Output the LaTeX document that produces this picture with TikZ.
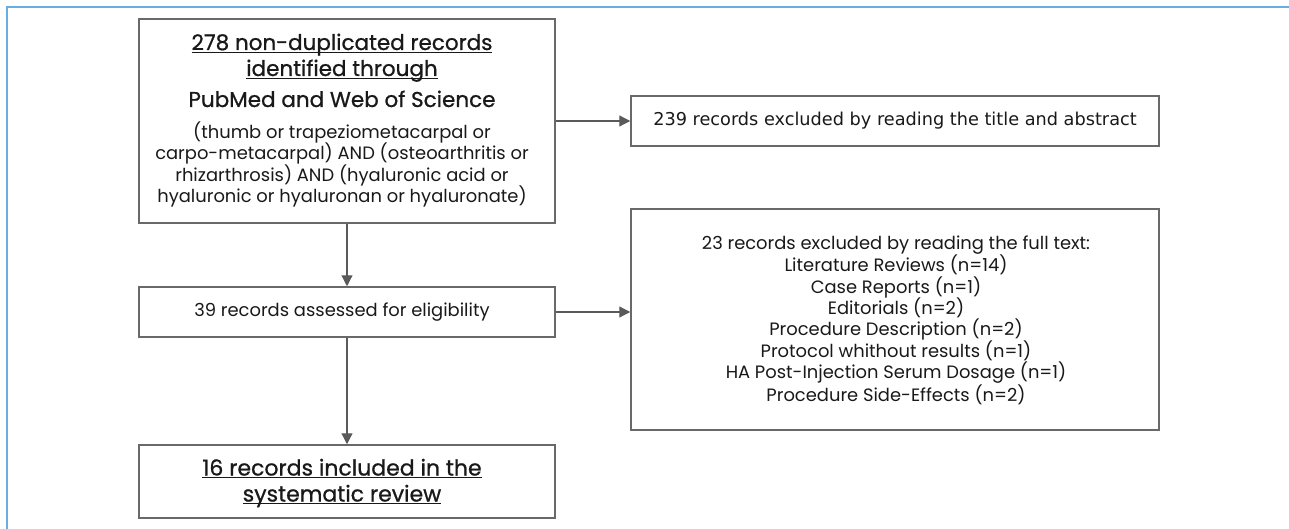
\documentclass[tikz,border=0pt]{standalone}
\usepackage{fontspec}
\setmainfont{Poppins}
\newfontfamily\dejavu{DejaVu Sans}
\newfontfamily\popmed[FakeBold=0.8]{Poppins}
\usetikzlibrary{arrows.meta}
\definecolor{frameblue}{RGB}{106,174,224}
\definecolor{boxgray}{RGB}{105,105,105}
\definecolor{arrowgray}{RGB}{90,90,90}
\definecolor{txt}{RGB}{25,25,25}
\newsavebox\myulbox
\newcommand{\myul}[1]{\sbox\myulbox{#1}\rlap{\rule[-2.8pt]{\wd\myulbox}{1.1pt}}\usebox\myulbox}
\tikzset{
  boxstyle/.style={draw=boxgray, line width=1.5pt, rectangle, inner sep=0pt, fill=white},
  arr/.style={draw=arrowgray, line width=1.2pt, -{Triangle[length=11pt,width=11pt]}},
  titlef/.style={font=\popmed\fontsize{21.5}{26}\selectfont, text=txt, inner sep=0pt},
  smallf/.style={font=\fontsize{17.9}{21.7}\selectfont, text=txt, inner sep=0pt},
  ex2f/.style={font=\fontsize{17.9}{21.4}\selectfont, text=txt, inner sep=0pt, align=center},
}
\begin{document}
\begin{tikzpicture}[x=1pt,y=-1pt]
\useasboundingbox (0,0) rectangle (1289,529);
\draw[frameblue, line width=2pt] (7,529) -- (7,7) -- (1289,7);

% boxes
\node[boxstyle, minimum width=416pt, minimum height=204pt] (src) at (347,121) {};
\node[boxstyle, minimum width=528pt, minimum height=50pt,
      font=\dejavu\fontsize{17.7}{21}\selectfont, text=txt] (ex1) at (895,121)
      {239 records excluded by reading the title and abstract};
\node[boxstyle, minimum width=416pt, minimum height=50pt] (mid) at (347,312) {};
\node[boxstyle, minimum width=528pt, minimum height=221pt] (ex2) at (895,319.5) {};
\node[boxstyle, minimum width=416pt, minimum height=73pt] (fin) at (347,481.5) {};

% texts of the source box
\node[titlef, anchor=base] (src1) at (342,50) {\myul{278 non-duplicated records}};
\node[titlef, anchor=base] (src2) at (342,76) {\myul{identified through}};
\node[titlef, anchor=base] (src3) at (342,107) {PubMed and Web of Science};
\node[smallf, anchor=base] (src4) at (342,138.3) {(thumb or trapeziometacarpal or};
\node[smallf, anchor=base] (src5) at (342,160) {carpo-metacarpal) AND (osteoarthritis or};
\node[smallf, anchor=base] (src6) at (342,181.7) {rhizarthrosis) AND (hyaluronic acid or};
\node[smallf, anchor=base] (src7) at (342,202.7) {hyaluronic or hyaluronan or hyaluronate)};

% other texts
\node[smallf] (midt) at (342,312) {39 records assessed for eligibility};
\node[ex2f] (ex2t) at (896,320) {23 records excluded by reading the full text:\\
  Literature Reviews (n=14)\\
  Case Reports (n=1)\\
  Editorials (n=2)\\
  Procedure Description (n=2)\\
  Protocol whithout results (n=1)\\
  HA Post-Injection Serum Dosage (n=1)\\
  Procedure Side-Effects (n=2)};
\node[titlef, align=center, font=\popmed\fontsize{22}{26}\selectfont] (fint) at (342,483) {\myul{16 records included in the}\\\myul{systematic review}};

% connectors
\draw[arr] (src.east) -- (ex1.west);
\draw[arr] (src.south) -- (mid.north);
\draw[arr] (mid.east) -- (mid.east -| ex2.west);
\draw[arr] (mid.south) -- (fin.north);
\end{tikzpicture}
\end{document}
